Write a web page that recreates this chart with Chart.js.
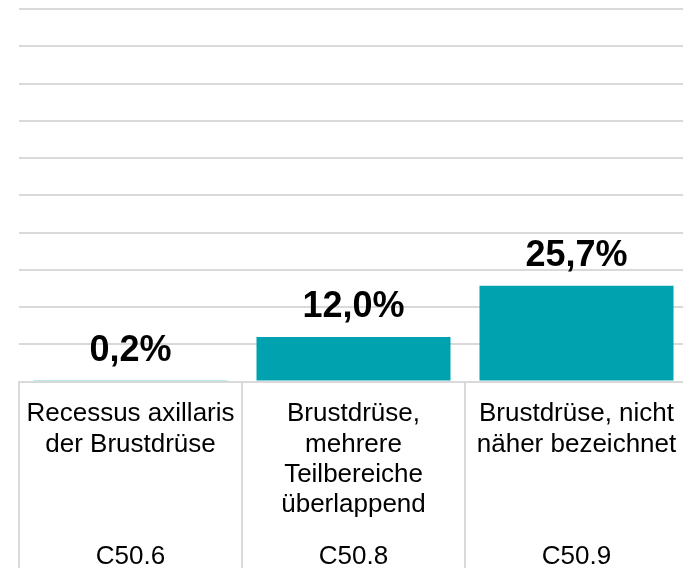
<!DOCTYPE html>
<html>
<head>
<meta charset="utf-8">
<script src="https://cdn.jsdelivr.net/npm/chart.js@4/dist/chart.umd.min.js"></script>
<style>
  html, body { margin: 0; padding: 0; background: #ffffff; overflow: hidden; width: 683px; height: 568px; }
  #wrap { width: 700px; height: 568px; }
</style>
</head>
<body>
<div id="wrap"><canvas id="c" width="700" height="568"></canvas></div>
<script>
const categories = [
  ["Recessus axillaris", "der Brustdrüse"],
  ["Brustdrüse,", "mehrere", "Teilbereiche", "überlappend"],
  ["Brustdrüse, nicht", "näher bezeichnet"]
];
const codes = ["C50.6", "C50.8", "C50.9"];
const values = [0.2, 12.0, 25.7];
const yTicks = { min: 0, max: 100, step: 10 };

const FONT = "'Liberation Sans', Arial, sans-serif";
const GRID = '#d9d9d9';

const valueLabels = {
  id: 'valueLabels',
  afterDatasetsDraw(chart) {
    const ctx = chart.ctx;
    const meta = chart.getDatasetMeta(0);
    ctx.save();
    ctx.font = "bold 36px " + FONT;
    ctx.fillStyle = '#000000';
    ctx.textAlign = 'center';
    ctx.textBaseline = 'alphabetic';
    meta.data.forEach((bar, i) => {
      const txt = values[i].toFixed(1).replace('.', ',') + '%';
      ctx.fillText(txt, bar.x, bar.y - 20);
    });
    ctx.restore();
  }
};

// vertical separators of the category table below the axis
const tableLines = {
  id: 'tableLines',
  afterDraw(chart) {
    const xs = chart.scales.x;
    const ctx = chart.ctx;
    const n = xs.ticks.length;
    const step = (xs.getPixelForTick(n - 1) - xs.getPixelForTick(0)) / Math.max(1, n - 1);
    ctx.save();
    ctx.strokeStyle = GRID;
    ctx.lineWidth = 2;
    for (let i = 0; i <= n; i++) {
      const px = Math.round(xs.getPixelForTick(0) - step / 2 + i * step);
      ctx.beginPath();
      ctx.moveTo(px, chart.chartArea.bottom);
      ctx.lineTo(px, chart.height);
      ctx.stroke();
    }
    ctx.restore();
  }
};

new Chart(document.getElementById('c'), {
  type: 'bar',
  data: {
    labels: categories,
    datasets: [{
      data: values,
      backgroundColor: '#00a2b0',
      borderWidth: 0,
      barPercentage: 0.87,
      categoryPercentage: 1.0
    }]
  },
  options: {
    responsive: false,
    animation: false,
    events: [],
    layout: { padding: { top: 9, left: 19, right: 12, bottom: -9 } },
    plugins: { legend: { display: false }, tooltip: { enabled: false } },
    scales: {
      y: {
        min: yTicks.min, max: yTicks.max,
        ticks: { display: false, stepSize: yTicks.step },
        grid: { color: GRID, lineWidth: 2, drawTicks: false },
        border: { display: false }
      },
      x: {
        type: 'category',
        position: 'bottom',
        weight: 0,
        z: 1,
        offset: true,
        grid: { display: false, drawTicks: false },
        border: { display: true, color: GRID, width: 2 },
        ticks: {
          color: '#000000',
          font: { family: FONT, size: 26, lineHeight: 1.16 },
          padding: 17.5,
          maxRotation: 0, minRotation: 0, autoSkip: false
        }
      },
      x2: {
        type: 'category',
        axis: 'x',
        position: 'bottom',
        weight: 1,
        labels: codes,
        offset: true,
        grid: { display: false, drawTicks: false },
        border: { display: false },
        ticks: {
          color: '#000000',
          font: { family: FONT, size: 26, lineHeight: 1.16 },
          padding: 4.8,
          maxRotation: 0, minRotation: 0, autoSkip: false
        }
      }
    }
  },
  plugins: [valueLabels, tableLines]
});
</script>
</body>
</html>
